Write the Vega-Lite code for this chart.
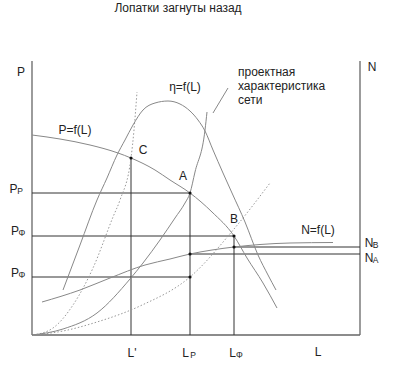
{
  "$schema": "https://vega.github.io/schema/vega-lite/v6.json",
  "width": 395,
  "height": 370,
  "autosize": {"type": "fit", "contains": "padding"},
  "padding": 0,
  "background": "white",
  "config": {"view": {"stroke": null}, "font": "Liberation Sans"},
  "datasets": {
    "curves": [
      {"id": "P", "L": 0, "P": 200}, {"id": "P", "L": 28, "P": 196}, {"id": "P", "L": 58, "P": 190}, {"id": "P", "L": 86, "P": 182}, {"id": "P", "L": 99, "P": 177}, {"id": "P", "L": 123, "P": 165}, {"id": "P", "L": 138, "P": 155}, {"id": "P", "L": 158, "P": 142}, {"id": "P", "L": 180, "P": 123}, {"id": "P", "L": 202, "P": 99}, {"id": "P", "L": 215, "P": 77}, {"id": "P", "L": 231, "P": 52}, {"id": "P", "L": 245, "P": 27},
      {"id": "eta", "L": 31, "P": 45}, {"id": "eta", "L": 48, "P": 90}, {"id": "eta", "L": 65, "P": 135}, {"id": "eta", "L": 75, "P": 157}, {"id": "eta", "L": 85, "P": 180}, {"id": "eta", "L": 93, "P": 195}, {"id": "eta", "L": 101, "P": 210}, {"id": "eta", "L": 111, "P": 225}, {"id": "eta", "L": 123, "P": 232}, {"id": "eta", "L": 136, "P": 234}, {"id": "eta", "L": 148, "P": 231}, {"id": "eta", "L": 158, "P": 224}, {"id": "eta", "L": 166, "P": 215}, {"id": "eta", "L": 173, "P": 204}, {"id": "eta", "L": 181, "P": 185}, {"id": "eta", "L": 191, "P": 162}, {"id": "eta", "L": 200, "P": 142}, {"id": "eta", "L": 213, "P": 113}, {"id": "eta", "L": 226, "P": 80}, {"id": "eta", "L": 236, "P": 60}, {"id": "eta", "L": 244, "P": 45},
      {"id": "net", "L": 0, "P": 0}, {"id": "net", "L": 31, "P": 6}, {"id": "net", "L": 65, "P": 22}, {"id": "net", "L": 98, "P": 56}, {"id": "net", "L": 111, "P": 72}, {"id": "net", "L": 128, "P": 95}, {"id": "net", "L": 143, "P": 117}, {"id": "net", "L": 153, "P": 132}, {"id": "net", "L": 158, "P": 142}, {"id": "net", "L": 163, "P": 163}, {"id": "net", "L": 173, "P": 205}, {"id": "net", "L": 175, "P": 223},
      {"id": "N", "L": 10, "P": 33}, {"id": "N", "L": 48, "P": 45}, {"id": "N", "L": 78, "P": 57}, {"id": "N", "L": 113, "P": 70}, {"id": "N", "L": 138, "P": 76}, {"id": "N", "L": 158, "P": 81}, {"id": "N", "L": 180, "P": 85}, {"id": "N", "L": 202, "P": 88}, {"id": "N", "L": 228, "P": 90.5}, {"id": "N", "L": 258, "P": 92}, {"id": "N", "L": 301, "P": 92.5},
      {"id": "lead", "L": 181, "P": 222}, {"id": "lead", "L": 196, "P": 247}
    ],
    "dotted": [
      {"id": "steep", "L": 1, "P": 0}, {"id": "steep", "L": 21, "P": 7}, {"id": "steep", "L": 41, "P": 30}, {"id": "steep", "L": 61, "P": 67}, {"id": "steep", "L": 81, "P": 118}, {"id": "steep", "L": 88, "P": 135}, {"id": "steep", "L": 99, "P": 177}, {"id": "steep", "L": 102, "P": 205}, {"id": "steep", "L": 105, "P": 243},
      {"id": "shallow", "L": 1, "P": 0}, {"id": "shallow", "L": 31, "P": 4}, {"id": "shallow", "L": 65, "P": 13}, {"id": "shallow", "L": 108, "P": 29}, {"id": "shallow", "L": 158, "P": 58}, {"id": "shallow", "L": 202, "P": 106}, {"id": "shallow", "L": 238, "P": 152}
    ],
    "guides": [
      {"id": "hPp", "L": 0, "P": 142}, {"id": "hPp", "L": 158, "P": 142},
      {"id": "hB", "L": 0, "P": 99}, {"id": "hB", "L": 202, "P": 99},
      {"id": "hLow", "L": 0, "P": 58}, {"id": "hLow", "L": 158, "P": 58},
      {"id": "vC", "L": 99, "P": 0}, {"id": "vC", "L": 99, "P": 177},
      {"id": "vA", "L": 158, "P": 0}, {"id": "vA", "L": 158, "P": 142},
      {"id": "vB", "L": 202, "P": 0}, {"id": "vB", "L": 202, "P": 99},
      {"id": "nA", "L": 158, "P": 81}, {"id": "nA", "L": 328, "P": 81},
      {"id": "nB", "L": 202, "P": 88}, {"id": "nB", "L": 328, "P": 88}
    ],
    "frame": [
      {"id": "left", "L": 0, "P": 0}, {"id": "left", "L": 0, "P": 274},
      {"id": "bottom", "L": 0, "P": 0}, {"id": "bottom", "L": 328, "P": 0},
      {"id": "right", "L": 328, "P": 0}, {"id": "right", "L": 328, "P": 274}
    ],
    "dots": [
      {"name": "C", "L": 99, "P": 177}, {"name": "A", "L": 158, "P": 142}, {"name": "B", "L": 202, "P": 99},
      {"name": "NB", "L": 202, "P": 88}, {"name": "NA", "L": 158, "P": 81}, {"name": "low", "L": 158, "P": 58}
    ],
    "labels": [
      {"text": "Лопатки загнуты назад", "L": 146, "P": 327},
      {"text": "P", "L": -11, "P": 263},
      {"text": "N", "L": 340, "P": 268},
      {"text": "P=f(L)", "L": 43, "P": 205},
      {"text": "C", "L": 111, "P": 185},
      {"text": "A", "L": 151, "P": 159},
      {"text": "B", "L": 202, "P": 116},
      {"text": "η=f(L)", "L": 153, "P": 248},
      {"text": "N=f(L)", "L": 286, "P": 105},
      {"text": "L'", "L": 100, "P": -18},
      {"text": "L", "L": 286, "P": -17},
      {"text": "P", "L": -18.5, "P": 146},
      {"text": "P", "L": -17, "P": 104},
      {"text": "P", "L": -17, "P": 62},
      {"text": "L", "L": 153.5, "P": -18},
      {"text": "L", "L": 200.5, "P": -18},
      {"text": "N", "L": 337, "P": 92},
      {"text": "N", "L": 337, "P": 77}
    ],
    "subs": [
      {"text": "P", "L": -12, "P": 146},
      {"text": "Φ", "L": -10, "P": 104},
      {"text": "Φ", "L": -10, "P": 62},
      {"text": "P", "L": 161, "P": -18},
      {"text": "Φ", "L": 207.5, "P": -18},
      {"text": "B", "L": 343.5, "P": 92},
      {"text": "A", "L": 343.5, "P": 77}
    ],
    "note": [
      {"text": "проектная", "L": 206, "P": 263},
      {"text": "характеристика", "L": 206, "P": 249},
      {"text": "сети", "L": 206, "P": 235}
    ]
  },
  "encoding": {
    "x": {"field": "L", "type": "quantitative", "scale": {"domain": [-32, 363], "nice": false, "zero": false}, "axis": null},
    "y": {"field": "P", "type": "quantitative", "scale": {"domain": [-35, 335], "nice": false, "zero": false}, "axis": null}
  },
  "layer": [
    {
      "data": {"name": "frame"},
      "mark": {"type": "line", "color": "#666666", "strokeWidth": 1.3},
      "encoding": {"detail": {"field": "id"}}
    },
    {
      "data": {"name": "guides"},
      "mark": {"type": "line", "color": "#333333", "strokeWidth": 1},
      "encoding": {"detail": {"field": "id"}}
    },
    {
      "data": {"name": "dotted"},
      "mark": {"type": "line", "color": "#999999", "strokeWidth": 1, "strokeDash": [1.5, 2], "interpolate": "monotone"},
      "encoding": {"detail": {"field": "id"}}
    },
    {
      "data": {"name": "curves"},
      "mark": {"type": "line", "color": "#888888", "strokeWidth": 1, "interpolate": "monotone"},
      "encoding": {"detail": {"field": "id"}}
    },
    {
      "data": {"name": "dots"},
      "mark": {"type": "point", "filled": true, "color": "#111111", "size": 10, "opacity": 1}
    },
    {
      "data": {"name": "labels"},
      "mark": {"type": "text", "fontSize": 12, "color": "#222222", "align": "center", "baseline": "middle"},
      "encoding": {"text": {"field": "text"}}
    },
    {
      "data": {"name": "subs"},
      "mark": {"type": "text", "fontSize": 8.5, "color": "#222222", "align": "center", "baseline": "middle", "dy": 1.5},
      "encoding": {"text": {"field": "text"}}
    },
    {
      "data": {"name": "note"},
      "mark": {"type": "text", "fontSize": 12, "color": "#222222", "align": "left", "baseline": "middle"},
      "encoding": {"text": {"field": "text"}}
    }
  ]
}
